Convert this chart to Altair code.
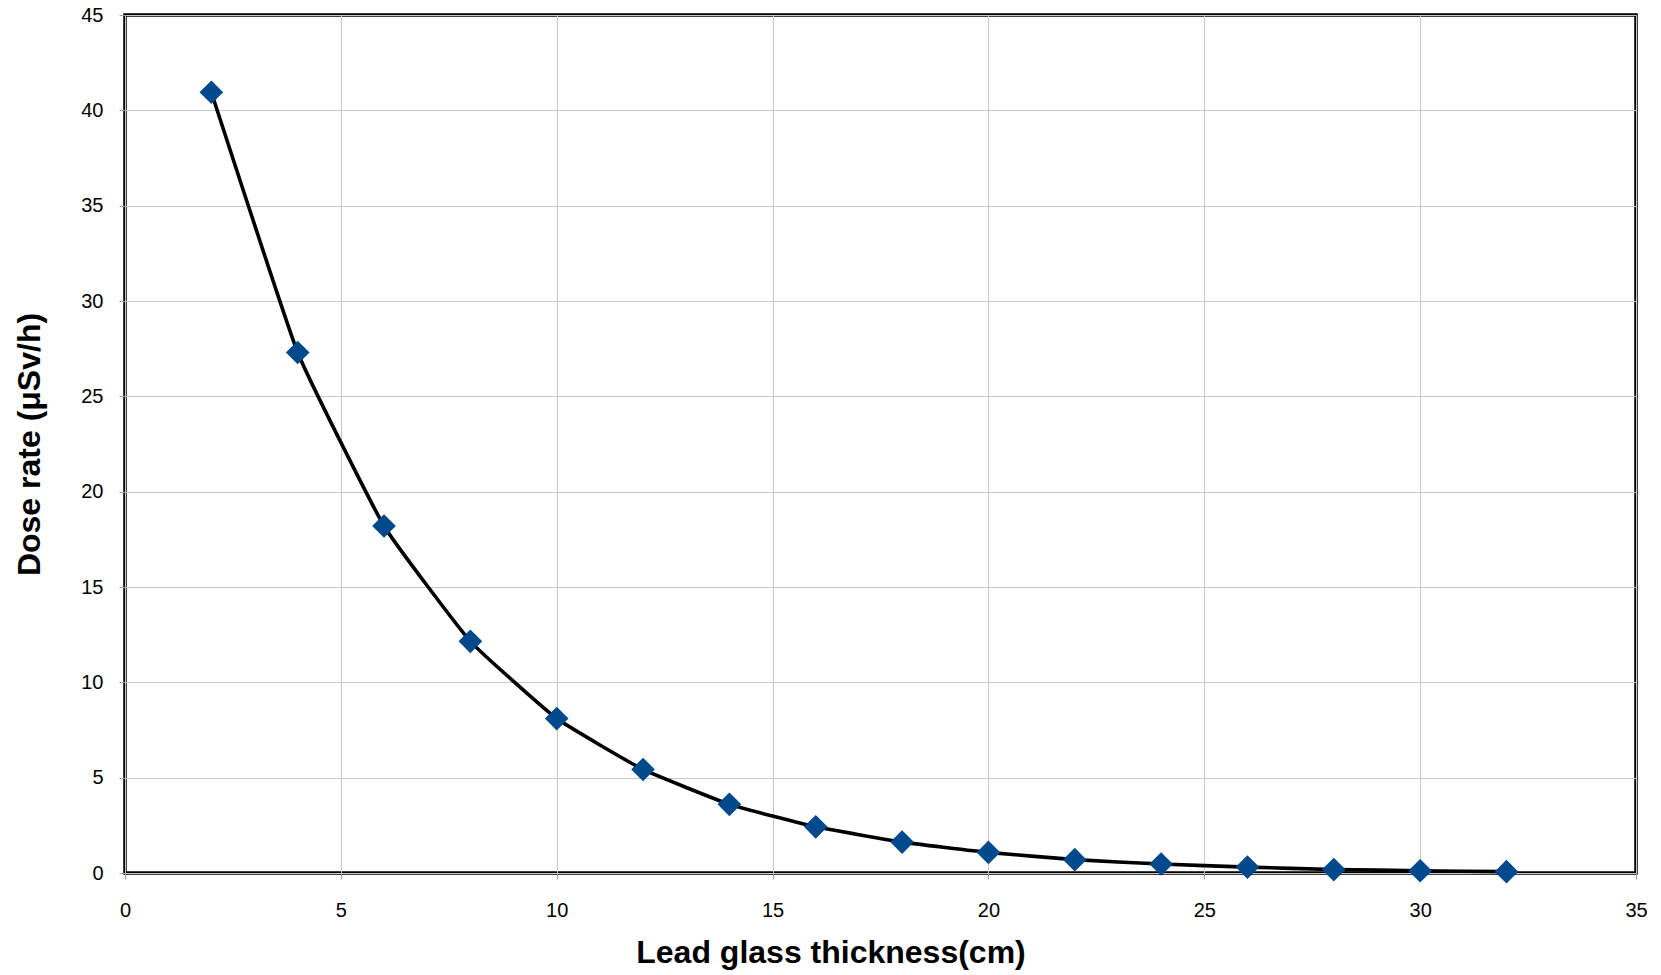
import altair as alt
import pandas as pd

# Lead glass thickness (cm) and measured dose rate (uSv/h)
thickness = [2, 4, 6, 8, 10, 12, 14, 16, 18, 20, 22, 24, 26, 28, 30, 32]
dose_rate = [40.95, 27.3, 18.2, 12.15, 8.1, 5.43, 3.6, 2.42, 1.62, 1.08,
             0.7, 0.47, 0.31, 0.18, 0.12, 0.07]

x_ticks = [0, 5, 10, 15, 20, 25, 30, 35]
y_ticks = [0, 5, 10, 15, 20, 25, 30, 35, 40, 45]

df = pd.DataFrame({"thickness": thickness, "dose": dose_rate})

FONT = "Liberation Sans"
PLOT_W, PLOT_H = 1511, 858
LEFT = 125

x_enc = alt.X(
    "thickness:Q",
    scale=alt.Scale(domain=[0, 35], nice=False, zero=False),
    axis=alt.Axis(
        values=x_ticks, title="Lead glass thickness(cm)", grid=True,
        gridColor="#c8c8c8", gridWidth=1, tickColor="#a0a0a0", tickSize=6,
        domain=False, labelFont=FONT, labelFontSize=20, labelColor="#000000",
        labelPadding=21, labelFlush=False,
        titleFont=FONT, titleFontSize=32, titleFontWeight="bold",
        titleColor="#000000", titlePadding=17,
        # centre the title on the whole figure rather than the plot area
        titleX=(1661 / 2) - LEFT,
    ),
)
y_enc = alt.Y(
    "dose:Q",
    scale=alt.Scale(domain=[0, 45], nice=False),
    axis=alt.Axis(
        values=y_ticks, title="Dose rate (μSv/h)", grid=True,
        gridColor="#c8c8c8", gridWidth=1, tickColor="#a0a0a0", tickSize=6,
        domain=False, labelFont=FONT, labelFontSize=20, labelColor="#000000",
        labelPadding=16, labelFlush=False,
        titleFont=FONT, titleFontSize=32, titleFontWeight="bold",
        titleColor="#000000", titlePadding=34,
    ),
)

# lightly smoothed connecting line
line = alt.Chart(df).mark_line(
    color="#000000", strokeWidth=3.6, interpolate="cardinal", tension=0.65
).encode(x=x_enc, y=y_enc)

points = alt.Chart(df).mark_point(
    shape="diamond", size=560, filled=True, color="#00498c", opacity=1
).encode(x="thickness:Q", y="dose:Q")

chart = (
    alt.layer(line, points)
    .properties(
        width=PLOT_W,
        height=PLOT_H,
        autosize=alt.AutoSizeParams(type="none"),
        padding={"left": LEFT, "top": 15, "right": 25, "bottom": 102},
        background="#ffffff",
    )
    .configure_view(stroke="#000000", strokeWidth=3.5)
)

chart.save("out.html", embed_options={"renderer": "svg", "actions": False})
